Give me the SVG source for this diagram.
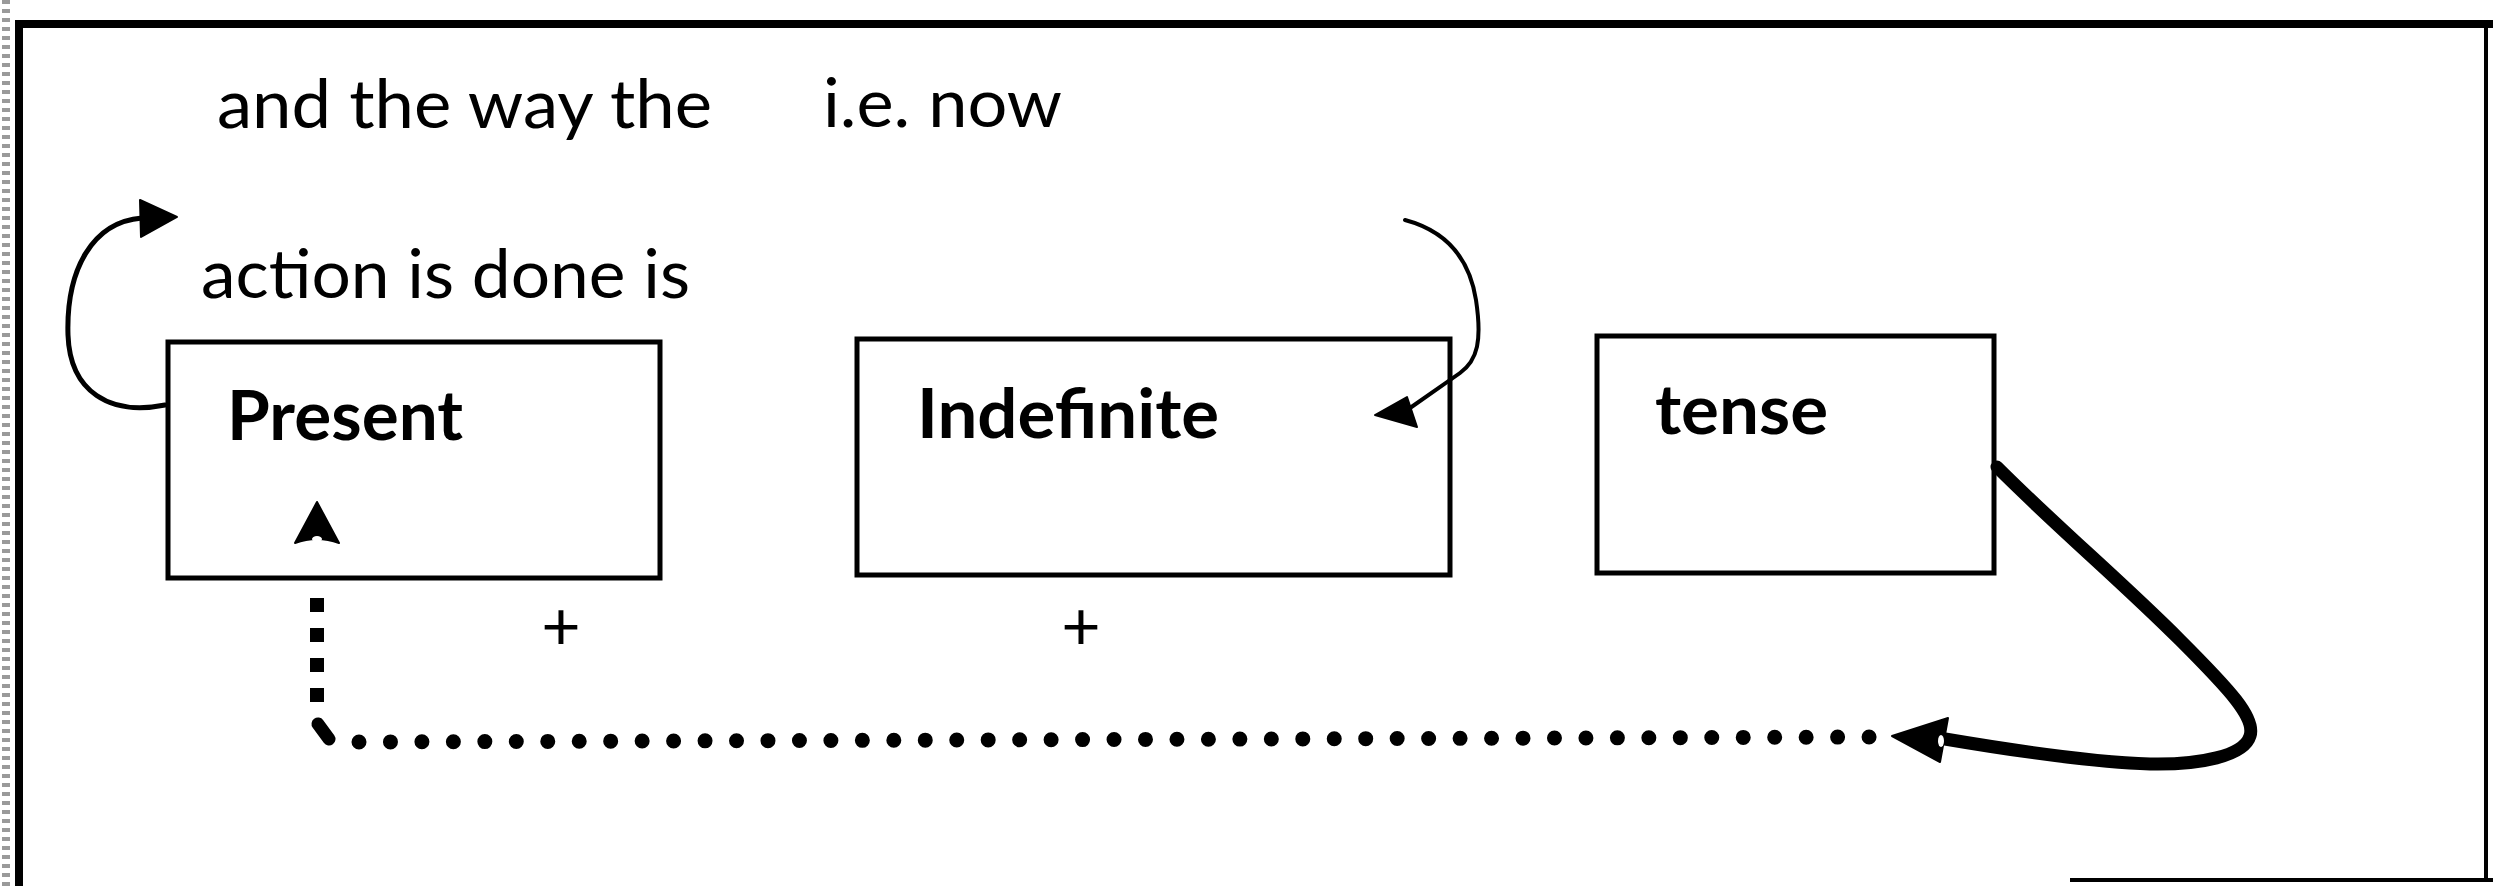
<svg xmlns="http://www.w3.org/2000/svg" width="2493" height="886" viewBox="0 0 2493 886">
<defs>
<style>
.t{font-family:Lato,"Liberation Sans",sans-serif;font-size:68px;fill:#000}
.b{font-weight:bold}
.box{fill:none;stroke:#000;stroke-width:5}
.ln{fill:none;stroke:#000;stroke-linecap:round;stroke-linejoin:round}
.sq{fill:none;stroke:#000;stroke-linecap:butt}
.head{fill:#000;stroke:#000;stroke-width:2;stroke-linejoin:round}
</style>
</defs>
<rect width="2493" height="886" fill="#fff"/>
<g id="frame">
<line x1="6" y1="0" x2="6" y2="886" stroke="#9a9a9a" stroke-width="8" stroke-dasharray="4 5"/>
<path d="M19,886 L19,24 L2493,24" fill="none" stroke="#000" stroke-width="8"/>
<line x1="2486" y1="24" x2="2486" y2="880" stroke="#000" stroke-width="4"/>
<line x1="2070" y1="880" x2="2493" y2="880" stroke="#000" stroke-width="4"/>
</g>
<g id="labels">
<text class="t" x="217" y="128" textLength="495" lengthAdjust="spacingAndGlyphs">and the way the</text>
<text class="t" x="823" y="127" textLength="239" lengthAdjust="spacingAndGlyphs">i.e. now</text>
<text class="t" x="201" y="298" textLength="489" lengthAdjust="spacingAndGlyphs">action is done is</text>
<text class="t" x="561" y="650" text-anchor="middle">+</text>
<text class="t" x="1081" y="650" text-anchor="middle">+</text>
</g>
<g id="node-present">
<rect class="box" x="168" y="342" width="492" height="236"/>
<text class="t b" x="227" y="440" textLength="236" lengthAdjust="spacingAndGlyphs">Present</text>
</g>
<g id="node-indefinite">
<rect class="box" x="857" y="339" width="593" height="236"/>
<text class="t b" x="917" y="438" textLength="302" lengthAdjust="spacingAndGlyphs">Indefinite</text>
</g>
<g id="node-tense">
<rect class="box" x="1597" y="336" width="397" height="237"/>
<text class="t b" x="1655" y="434" textLength="173" lengthAdjust="spacingAndGlyphs">tense</text>
</g>
<g id="connectors">
<path class="ln" stroke-width="5" d="M165,405 C110,416 70,392 68,335 C66,270 92,222 142,218"/>
<polygon class="head" points="177,217 140,200 141,237"/>
<path class="ln" stroke-width="4" d="M1405,220 C1450,232 1470,262 1476,300 C1482,340 1478,360 1460,373 L1410,408"/>
<polygon class="head" points="1375,415 1407,397 1417,427"/>
<path class="ln" stroke-width="13" d="M1997,467 C2060,530 2120,580 2180,640 C2230,690 2256,718 2250,736 C2244,756 2200,765 2150,764 C2090,762 2010,750 1945,739"/>
<polygon class="head" points="1892,736 1948,718 1940,762"/>
<ellipse cx="1941" cy="741" rx="3" ry="6" fill="#fff"/>
<line class="sq" x1="317" y1="598" x2="317" y2="712" stroke-width="14" stroke-dasharray="14 16"/>
<line class="ln" x1="318" y1="724" x2="329" y2="739" stroke-width="13"/>
<line class="ln" x1="359" y1="742" x2="1870" y2="737" stroke-width="15" stroke-dasharray="0 31.46"/>
<path class="head" d="M317,502 L339,543 Q317,535 295,543 Z"/>
<ellipse cx="317" cy="539" rx="5" ry="3" fill="#fff"/>
</g>
</svg>
